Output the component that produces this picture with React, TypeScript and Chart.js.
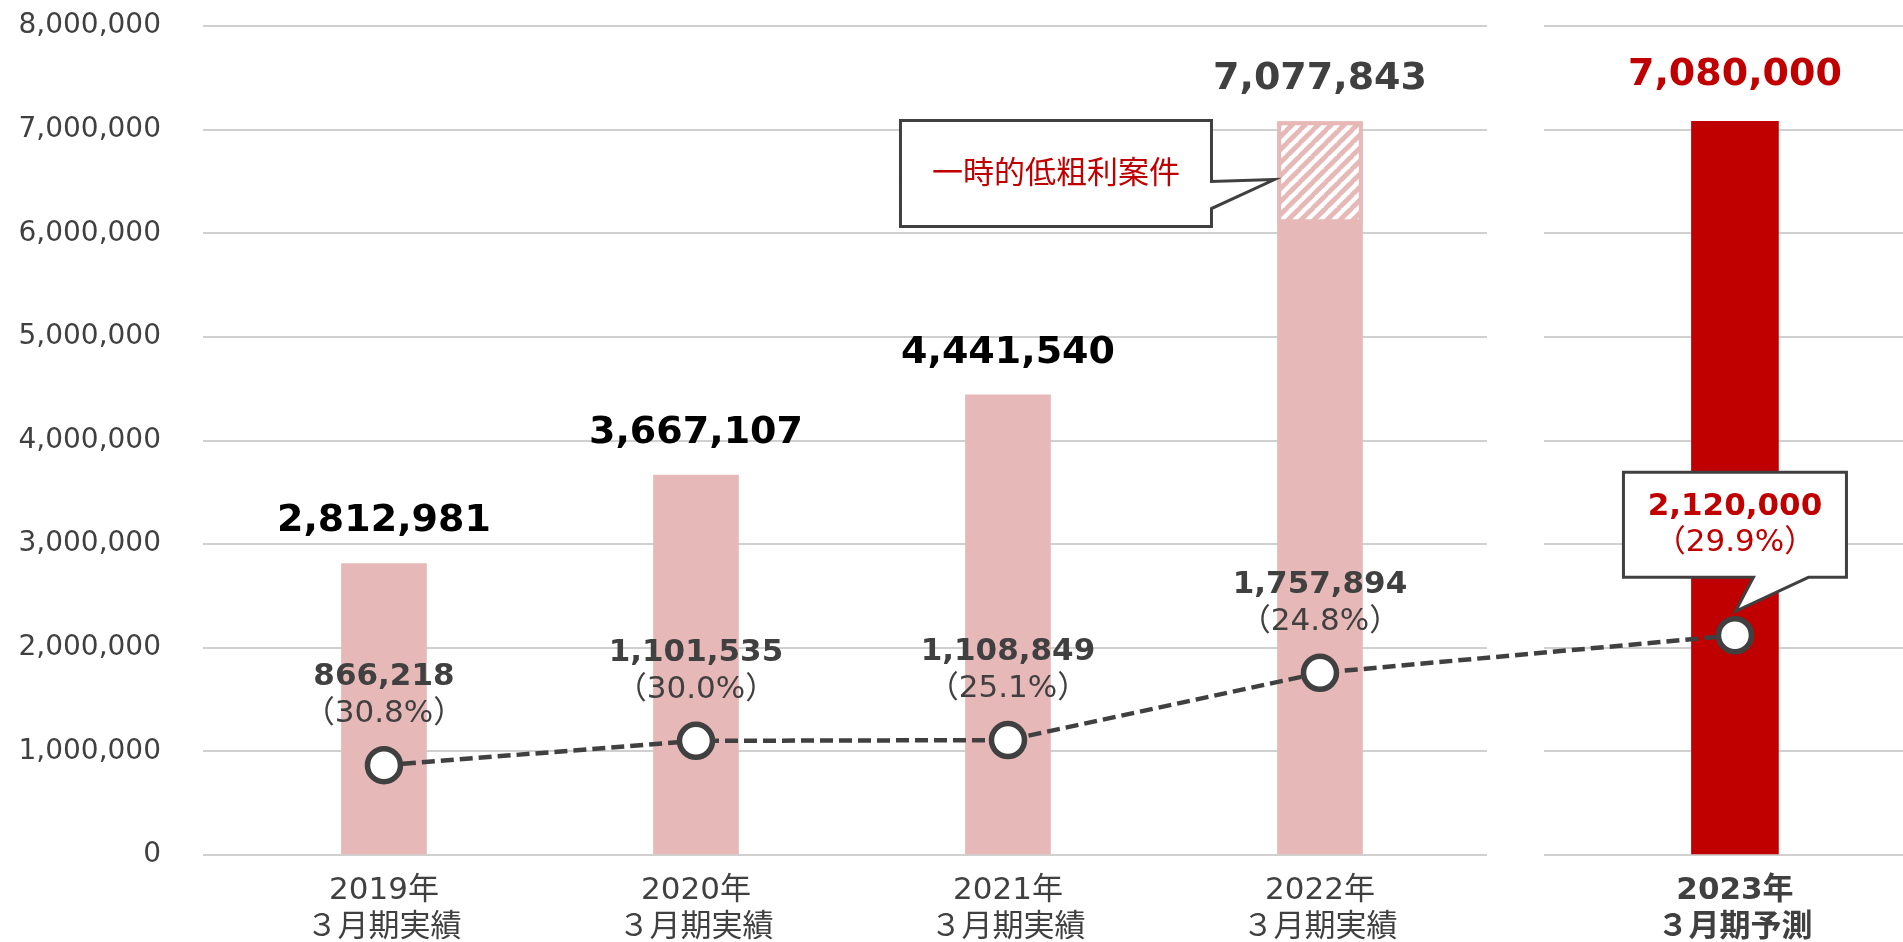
import { useEffect, useRef } from 'react';
import { Chart, registerables } from 'chart.js';

Chart.register(...registerables);

// ---------- data ----------
const categories: string[][] = [
  ['2019年', '３月期実績'],
  ['2020年', '３月期実績'],
  ['2021年', '３月期実績'],
  ['2022年', '３月期実績'],
  ['2023年', '３月期予測'],
];
const salesActual = [2812981, 3667107, 4441540, 7077843];
const salesForecast = [7080000];
const lowMarginRange2022 = [6100000, 7077843];
const lowMarginNote = '一時的低粗利案件';
const grossProfit = [866218, 1101535, 1108849, 1757894, 2120000];
const grossMarginPct = [30.8, 30.0, 25.1, 24.8, 29.9];
const yMin = 0;
const yMax = 8000000;
const yStep = 1000000;

// ---------- layout / style ----------
const W = 1903;
const H = 942;
const FONT = '"DejaVu Sans", "Noto Sans CJK JP", sans-serif';
const PINK = '#E6B8B7';
const RED = '#C00000';
const DARK = '#404040';
const GRID = '#D0D0D0';
const FORECAST_SHIFT = 0.33;
const X_MIN = -0.58;
const X_MAX = 4.8686;
const GAP_START = 3.535;
const GAP_END = 3.718;
const slot = (i: number) => i + (i >= 4 ? FORECAST_SHIFT : 0);

const fmt = (v: number) => String(v).replace(/\B(?=(\d{3})+(?!\d))/g, ',');
const pctText = (p: number) => `（${p.toFixed(1)}%）`;

function makeHatch(): CanvasPattern | string {
  const s = 13;
  const c = document.createElement('canvas');
  c.width = s;
  c.height = s;
  const g = c.getContext('2d');
  if (!g) return PINK;
  g.fillStyle = '#ffffff';
  g.fillRect(0, 0, s, s);
  g.strokeStyle = PINK;
  g.lineWidth = 4.8;
  g.beginPath();
  for (const o of [-s, 0, s]) {
    g.moveTo(o - 1, s + 1);
    g.lineTo(o + s + 1, -1);
  }
  g.stroke();
  return g.createPattern(c, 'repeat') || PINK;
}

function text(ctx: CanvasRenderingContext2D, str: string, x: number, y: number, size: number, bold: boolean, color: string) {
  ctx.font = `${bold ? 'bold ' : ''}${size}px ${FONT}`;
  ctx.fillStyle = color;
  ctx.textAlign = 'center';
  ctx.textBaseline = 'middle';
  ctx.fillText(str, x, y);
}

const zeroPadding = (scale: any) => {
  scale.paddingTop = 0;
  scale.paddingBottom = 0;
  scale.paddingLeft = 0;
  scale.paddingRight = 0;
};

const annotations = {
  id: 'annotations',
  beforeDatasetsDraw(chart: any) {
    const { ctx, chartArea, scales } = chart;
    const a = scales.x.getPixelForValue(GAP_START);
    const b = scales.x.getPixelForValue(GAP_END);
    ctx.save();
    ctx.fillStyle = '#ffffff';
    ctx.fillRect(a, chartArea.top - 4, b - a, chartArea.bottom - chartArea.top + 8);
    ctx.restore();
  },
  afterDatasetsDraw(chart: any) {
    const ctx: CanvasRenderingContext2D = chart.ctx;
    const actual = chart.getDatasetMeta(0).data;
    const forecast = chart.getDatasetMeta(1).data;
    const hatch = chart.getDatasetMeta(2).data;
    const line = chart.getDatasetMeta(3).data;
    ctx.save();

    // bar totals
    actual.forEach((el: any, i: number) => {
      text(ctx, fmt(salesActual[i]), el.x, el.y - 42, 38, true, i === 3 ? DARK : '#000000');
    });
    forecast.forEach((el: any, i: number) => {
      text(ctx, fmt(salesForecast[i]), el.x, el.y - 46, 38, true, RED);
    });

    // gross profit labels (actuals)
    for (let i = 0; i < 4; i++) {
      const p = line[i];
      text(ctx, fmt(grossProfit[i]), p.x, p.y - 88, 31, true, DARK);
      text(ctx, pctText(grossMarginPct[i]), p.x, p.y - 51, 31, false, DARK);
    }

    ctx.lineWidth = 3;
    ctx.strokeStyle = DARK;
    ctx.lineJoin = 'miter';

    // callout for low-margin portion
    const h = hatch[0];
    if (h) {
      const barLeft = h.x - h.width / 2;
      const top = h.y - 1;
      const left = barLeft - 377;
      const right = barLeft - 66;
      const bottom = top + 106;
      ctx.beginPath();
      ctx.moveTo(left, top);
      ctx.lineTo(right, top);
      ctx.lineTo(right, top + 61);
      ctx.lineTo(barLeft - 3, top + 59);
      ctx.lineTo(right, top + 88);
      ctx.lineTo(right, bottom);
      ctx.lineTo(left, bottom);
      ctx.closePath();
      ctx.fillStyle = '#ffffff';
      ctx.fill();
      ctx.stroke();
      text(ctx, lowMarginNote, (left + right) / 2, top + 54, 31, false, RED);
    }

    // callout for forecast gross profit
    const p = line[4];
    if (p) {
      const tipY = p.y - 24;
      const bottom = tipY - 34;
      const top = bottom - 105;
      const left = p.x - 111.5;
      const right = p.x + 111.5;
      ctx.beginPath();
      ctx.moveTo(left, top);
      ctx.lineTo(right, top);
      ctx.lineTo(right, bottom);
      ctx.lineTo(p.x + 73.5, bottom);
      ctx.lineTo(p.x + 0.5, tipY);
      ctx.lineTo(p.x + 18.5, bottom);
      ctx.lineTo(left, bottom);
      ctx.closePath();
      ctx.fillStyle = '#ffffff';
      ctx.fill();
      ctx.stroke();
      text(ctx, fmt(grossProfit[4]), p.x, top + 35, 31, true, RED);
      text(ctx, pctText(grossMarginPct[4]), p.x, top + 71, 31, false, RED);
    }
    ctx.restore();
  },
};

export default function App() {
  const ref = useRef<HTMLCanvasElement | null>(null);

  useEffect(() => {
    if (!ref.current) return;
    const hatchFill = makeHatch();
    const chart = new Chart(ref.current, {
      type: 'bar',
      data: {
        datasets: [
          {
            type: 'bar',
            label: '売上高（実績）',
            data: salesActual.map((v, i) => ({ x: slot(i), y: v })),
            backgroundColor: PINK,
            barThickness: 85,
            grouped: false,
            order: 2,
          } as any,
          {
            type: 'bar',
            label: '売上高（予測）',
            data: salesForecast.map((v, i) => ({ x: slot(salesActual.length + i), y: v })),
            backgroundColor: RED,
            barThickness: 87,
            grouped: false,
            order: 2,
          } as any,
          {
            type: 'bar',
            label: lowMarginNote,
            data: [{ x: slot(3), y: lowMarginRange2022 }],
            backgroundColor: hatchFill,
            borderColor: PINK,
            borderWidth: 4,
            borderSkipped: false,
            barThickness: 85,
            grouped: false,
            order: 1,
          } as any,
          {
            type: 'line',
            label: '売上総利益',
            data: grossProfit.map((v, i) => ({ x: slot(i), y: v })),
            borderColor: DARK,
            borderWidth: 4.5,
            borderDash: [13, 6],
            pointRadius: 16.5,
            pointBorderWidth: 5.5,
            pointBackgroundColor: '#ffffff',
            pointBorderColor: DARK,
            tension: 0,
            clip: false,
            order: 0,
          } as any,
        ],
      },
      options: {
        animation: false,
        responsive: false,
        devicePixelRatio: 1,
        events: [],
        layout: { autoPadding: false, padding: { top: 26, left: 0, right: 0, bottom: 0 } },
        plugins: { legend: { display: false }, tooltip: { enabled: false } },
        scales: {
          x: {
            type: 'linear',
            offset: false,
            min: X_MIN,
            max: X_MAX,
            grid: { display: false, drawTicks: false },
            border: { display: false },
            afterBuildTicks: (scale: any) => {
              scale.ticks = categories.map((_, i) => ({ value: slot(i) }));
            },
            afterFit: (scale: any) => {
              scale.height = H - 855;
              zeroPadding(scale);
            },
            ticks: {
              autoSkip: false,
              maxRotation: 0,
              minRotation: 0,
              padding: 17,
              color: DARK,
              font: (c: any) => ({ family: FONT, size: 31, weight: c.index === 4 ? 'bold' : 'normal', lineHeight: 1.2 }),
              callback: (_v: any, i: number) => categories[i],
            },
          } as any,
          y: {
            type: 'linear',
            min: yMin,
            max: yMax,
            grid: { color: GRID, lineWidth: 2, drawTicks: false },
            border: { display: false },
            afterFit: (scale: any) => {
              scale.width = 203;
              zeroPadding(scale);
            },
            ticks: {
              stepSize: yStep,
              padding: 42,
              color: DARK,
              font: { family: FONT, size: 28 },
              callback: (v: any) => fmt(Number(v)),
            },
          } as any,
        },
      },
      plugins: [annotations],
    });
    return () => chart.destroy();
  }, []);

  return (
    <div style={{ position: 'absolute', left: 0, top: 0, width: W, height: H, background: '#ffffff' }}>
      <canvas ref={ref} width={W} height={H} style={{ display: 'block', width: W, height: H }} />
    </div>
  );
}
